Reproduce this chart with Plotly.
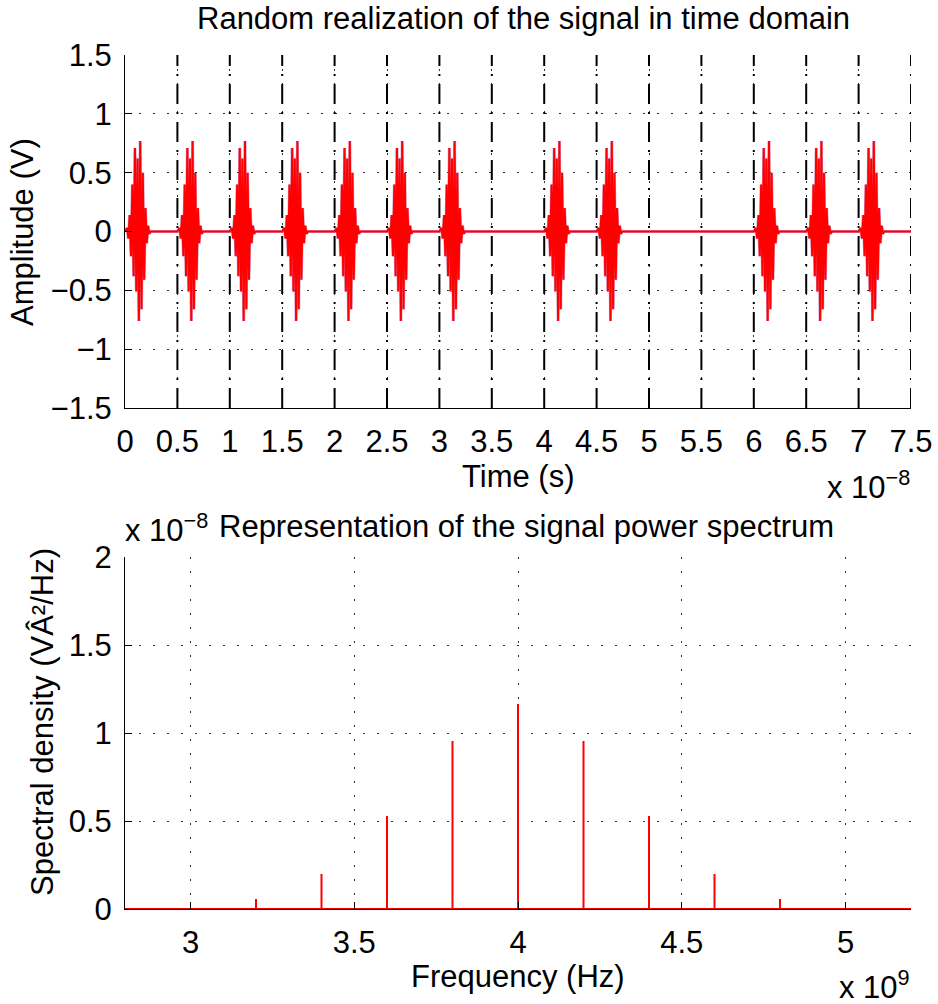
import plotly.graph_objects as go
from plotly.subplots import make_subplots

# time domain: pulse slots (ns) and one burst
pulse_start_ns = [0, 5, 10, 15, 20, 25, 30, 40, 45, 60, 65, 70]
burst_offset_ns = [0.00, 0.20, 0.325, 0.45, 0.575, 0.70, 0.825, 0.95, 1.075, 1.20, 1.325,
                   1.45, 1.575, 1.70, 1.825, 1.95, 2.075, 2.20, 2.325, 2.45]
burst_volts = [0.0, 0.03, -0.06, 0.14, -0.21, 0.40, -0.38, 0.71, -0.51, 0.62, -0.76,
               0.77, -0.66, 0.50, -0.41, 0.20, -0.10, 0.05, -0.02, 0.0]
slot_bounds_ns = [5, 10, 15, 20, 25, 30, 35, 40, 45, 50, 55, 60, 65, 70, 75]
t_end_ns = 75

t_ticks = [0, 0.5, 1, 1.5, 2, 2.5, 3, 3.5, 4, 4.5, 5, 5.5, 6, 6.5, 7, 7.5]
t_ticklabels = ["0", "0.5", "1", "1.5", "2", "2.5", "3", "3.5", "4", "4.5", "5", "5.5", "6", "6.5", "7", "7.5"]

# spectrum lines
freq_ghz = [3.2, 3.4, 3.6, 3.8, 4.0, 4.2, 4.4, 4.6, 4.8]
psd_e8 = [0.057, 0.199, 0.528, 0.955, 1.165, 0.955, 0.528, 0.199, 0.057]
f_range_ghz = [2.8, 5.2]
f_ticks = [3, 3.5, 4, 4.5, 5]
f_ticklabels = ["3", "3.5", "4", "4.5", "5"]
psd_ticks = [0, 0.5, 1, 1.5, 2]
psd_ticklabels = ["0", "0.5", "1", "1.5", "2"]

W, H = 938, 1004
FONT = "Liberation Sans, Arial, sans-serif"
FS = 31


def xp(px):
    return px / W


def yp(py):
    return 1 - py / H


# build signal
t, v = [0.0], [0.0]
for s in pulse_start_ns:
    for o, a in zip(burst_offset_ns, burst_volts):
        t.append((s + o) * 1e-9)
        v.append(a)
t.append(t_end_ns * 1e-9)
v.append(0.0)

# slot boundary lines
bx, by = [], []
for b in slot_bounds_ns:
    bx += [b * 1e-9, b * 1e-9, None]
    by += [-1.5, 1.5, None]

# spectrum stems
fx, fy = [f_range_ghz[0] * 1e9], [0.0]
for f, p in zip(freq_ghz, psd_e8):
    fx += [f * 1e9, f * 1e9, f * 1e9]
    fy += [0.0, p * 1e-8, 0.0]
fx.append(f_range_ghz[1] * 1e9)
fy.append(0.0)

fig = make_subplots(rows=2, cols=1)
fig.add_trace(go.Scatter(x=bx, y=by, mode="lines",
                         line=dict(color="black", width=2, dash="20px,8px,2px,8px")), row=1, col=1)
fig.add_trace(go.Scatter(x=t, y=v, mode="lines", line=dict(color="#a0208c", width=3), opacity=0.45), row=1, col=1)
fig.add_trace(go.Scatter(x=t, y=v, mode="lines", line=dict(color="#ff0000", width=2)), row=1, col=1)
fig.add_trace(go.Scatter(x=fx, y=fy, mode="lines", line=dict(color="#ff0000", width=2)), row=2, col=1)

axis_style = dict(showline=True, linecolor="black", linewidth=1, ticks="inside", ticklen=7,
                  tickcolor="black", showgrid=True, gridcolor="#333333", gridwidth=1,
                  griddash="1.5px,12.5px", zeroline=False, mirror=False, automargin=False,
                  tickfont=dict(family=FONT, size=FS, color="black"))

fig.update_xaxes(axis_style)
fig.update_yaxes(axis_style)

fig.update_layout(
    xaxis=dict(domain=[xp(125), xp(911)], range=[0, 7.5e-8],
               tickvals=[x * 1e-8 for x in t_ticks], ticktext=t_ticklabels, ticklabelstandoff=6),
    yaxis=dict(domain=[yp(408), yp(55)], range=[-1.5, 1.5], dtick=0.5, ticklabelstandoff=6),
    xaxis2=dict(domain=[xp(125), xp(911)], range=[f_range_ghz[0] * 1e9, f_range_ghz[1] * 1e9],
                tickvals=[x * 1e9 for x in f_ticks], ticktext=f_ticklabels, ticklabelstandoff=6),
    yaxis2=dict(domain=[yp(909), yp(557)], range=[0, 2e-8],
                tickvals=[x * 1e-8 for x in psd_ticks], ticktext=psd_ticklabels, ticklabelstandoff=6),
    width=W, height=H, margin=dict(l=0, r=0, t=0, b=0, autoexpand=False),
    paper_bgcolor="white", plot_bgcolor="white", showlegend=False,
    font=dict(family=FONT, size=FS, color="black"),
)

notes = [
    dict(text="Random realization of the signal in time domain", x=xp(523), y=yp(19), xanchor="center"),
    dict(text="Time (s)", x=xp(518), y=yp(476), xanchor="center"),
    dict(text="x 10<sup>\u22128</sup>", x=xp(912), y=yp(485), xanchor="right"),
    dict(text="Representation of the signal power spectrum", x=xp(526), y=yp(526), xanchor="center"),
    dict(text="x 10<sup>\u22128</sup>", x=xp(123), y=yp(528), xanchor="left"),
    dict(text="Frequency (Hz)", x=xp(518), y=yp(976), xanchor="center"),
    dict(text="x 10<sup>9</sup>", x=xp(912), y=yp(985), xanchor="right"),
    dict(text="Amplitude (V)", x=xp(22), y=yp(232), xanchor="center", textangle=-90),
    dict(text="Spectral density (V\u00c2\u00b2/Hz)", x=xp(42), y=yp(722), xanchor="center", textangle=-90),
]
for n in notes:
    fig.add_annotation(xref="paper", yref="paper", yanchor="middle", showarrow=False,
                       font=dict(family=FONT, size=FS, color="black"), **n)

# page body margin would shift the figure by 8px
fig.write_html("out.html", config={"displayModeBar": False},
               post_script="document.body.style.margin='0';")
